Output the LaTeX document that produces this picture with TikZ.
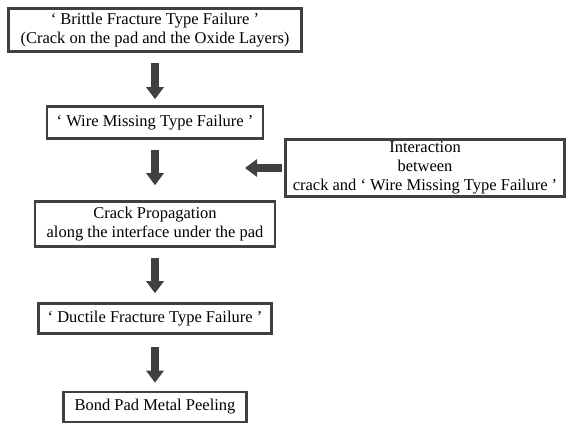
\documentclass[tikz,border=0pt]{standalone}
\usepackage{fontspec}
\setmainfont{Liberation Serif}
\usetikzlibrary{arrows.meta}

\begin{document}
\begin{tikzpicture}[x=1pt,y=1pt]
	% Box and arrow looks
	\definecolor{boxgray}{rgb}{0.25, 0.25, 0.25}
	\tikzset{
		stage/.style={draw=boxgray, line width=2.6pt, fill=white, inner sep=0pt,
			align=center, font=\fontsize{16.5}{19}\selectfont},
		flow/.style={draw=boxgray, line width=8pt,
			-{Triangle[width=17pt, length=12pt]}, shorten <=10pt}
	}
	
	% Page frame
	\useasboundingbox (0,0) rectangle (567,-424);
	
	% Main column of stages
	\node[stage, minimum width=293, minimum height=43] (brittle) at (155,-30)
		{‘ Brittle Fracture Type Failure ’\\(Crack on the pad and the Oxide Layers)};
	\node[stage, minimum width=216, minimum height=32] (wire) at (155,-122.5)
		{‘ Wire Missing Type Failure ’};
	\node[stage, minimum width=240, minimum height=45] (crack) at (155,-224)
		{Crack Propagation\\along the interface under the pad};
	\node[stage, minimum width=233, minimum height=30] (ductile) at (155,-318.5)
		{‘ Ductile Fracture Type Failure ’};
	\node[stage, minimum width=183, minimum height=30] (peel) at (155,-407)
		{Bond Pad Metal Peeling};
	
	% Side box
	\node[stage, minimum width=279, minimum height=57] (inter) at (425,-168)
		{Interaction\\between\\crack and ‘ Wire Missing Type Failure ’};
	\coordinate (tip) at (245,-168);
	
	% Arrows
	\draw[flow, shorten >=6pt] (brittle) -- (wire);
	\draw[flow, shorten >=15pt] (wire) -- (crack);
	\draw[flow, shorten >=9pt] (crack) -- (ductile);
	\draw[flow, shorten <=12pt, shorten >=8pt] (ductile) -- (peel);
	\draw[flow, shorten <=2pt] (inter.west) -- (tip);

\end{tikzpicture}
\end{document}
